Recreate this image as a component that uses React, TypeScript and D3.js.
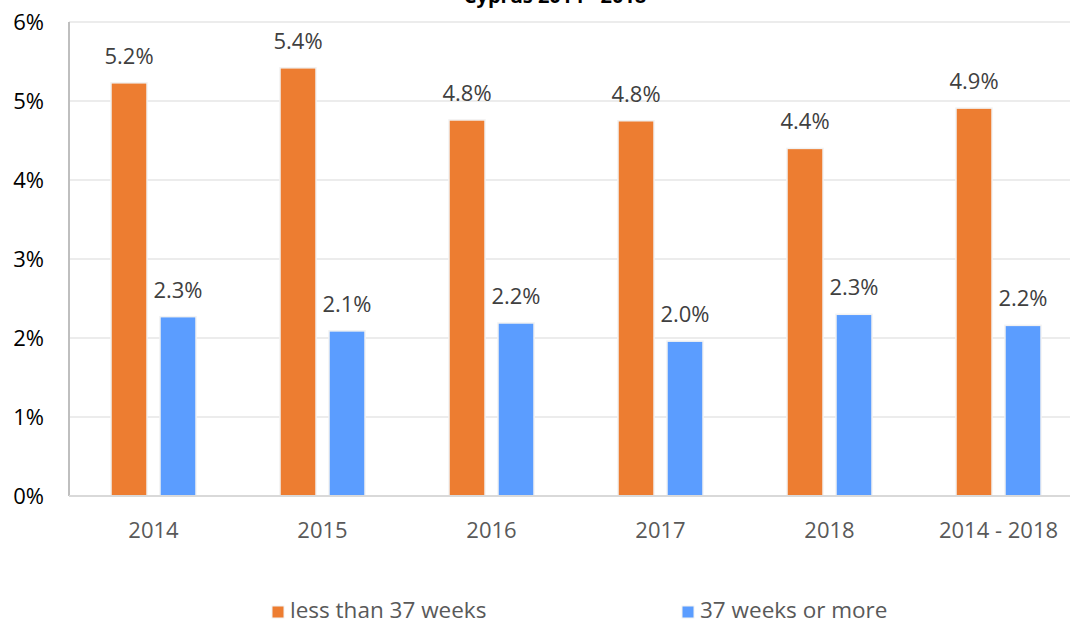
import React from 'react';
import * as d3 from 'd3';

const categories = ['2014', '2015', '2016', '2017', '2018', '2014 - 2018'];
const seriesNames = ['less than 37 weeks', '37 weeks or more'];
const lessThan37 = [5.23, 5.42, 4.76, 4.75, 4.4, 4.91];
const moreThan37 = [2.27, 2.09, 2.19, 1.96, 2.3, 2.16];
const labelsLess = ['5.2%', '5.4%', '4.8%', '4.8%', '4.4%', '4.9%'];
const labelsMore = ['2.3%', '2.1%', '2.2%', '2.0%', '2.3%', '2.2%'];
const yTicks = [0, 1, 2, 3, 4, 5, 6];
const colors = ['#ED7D31', '#5B9DFF'];
const title = 'Cyprus 2014 - 2018';

const W = 1070;
const H = 625;
const font = '"Open Sans", sans-serif';

const App = () => {
  const left = 69;
  const top = 22;
  const bottom = 496;

  const x = d3.scaleBand().domain(categories).range([left, left + 6 * 169]);
  const y = d3.scaleLinear().domain([0, 6]).range([bottom, top]);
  const x1 = d3.scaleBand().domain(seriesNames).range([0, 85]).paddingInner(0.265);

  const values = [lessThan37, moreThan37];
  const labels = [labelsLess, labelsMore];

  return (
    <svg width={W} height={H} style={{ position: 'absolute', left: 0, top: 0 }} fontFamily={font}>
      <rect width={W} height={H} fill="#fff" />
      {/* title sits mostly above the visible area, as in the reference */}
      <text x={555} y={3} textAnchor="middle" fontWeight="bold" fontSize={20} fill="#000">{title}</text>

      {/* gridlines */}
      {yTicks.filter(t => t > 0).map(t => (
        <line key={t} x1={left} x2={W} y1={y(t)} y2={y(t)} stroke="#ececec" strokeWidth={2} />
      ))}
      {yTicks.map(t => (
        <text key={'l' + t} x={44} y={y(t) + 8} textAnchor="end" fontSize={22} fill="#000">{t}%</text>
      ))}

      {/* bars */}
      {categories.map((c, i) => {
        const cx = (x(c) as number) + x.bandwidth() / 2 - 42.5;
        return (
          <g key={c}>
            {seriesNames.map((s, j) => {
              const v = values[j][i];
              const bx = cx + (x1(s) as number);
              return (
                <g key={s}>
                  <rect x={bx} y={y(v)} width={x1.bandwidth()} height={bottom - y(v)}
                    fill={colors[j]} stroke="#f2f2f2" strokeWidth={1.5} />
                  <text x={bx + x1.bandwidth() / 2} y={y(v) - 19} textAnchor="middle"
                    fontSize={22} fill="#404040">{labels[j][i]}</text>
                </g>
              );
            })}
            <text x={(x(c) as number) + x.bandwidth() / 2} y={538} textAnchor="middle"
              fontSize={22} fill="#595959">{c}</text>
          </g>
        );
      })}

      {/* axes */}
      <line x1={left} x2={left} y1={top} y2={bottom} stroke="#bfbfbf" strokeWidth={2} />
      <line x1={left} x2={W} y1={bottom} y2={bottom} stroke="#d9d9d9" strokeWidth={2} />

      {/* legend */}
      {seriesNames.map((s, j) => {
        const lx = j === 0 ? 272 : 682;
        return (
          <g key={s}>
            <rect x={lx} y={606} width={12} height={12} fill={colors[j]} stroke="#f2f2f2" />
            <text x={lx + 18} y={618} fontSize={22.5} fill="#595959">{s}</text>
          </g>
        );
      })}
    </svg>
  );
};

export default App;
